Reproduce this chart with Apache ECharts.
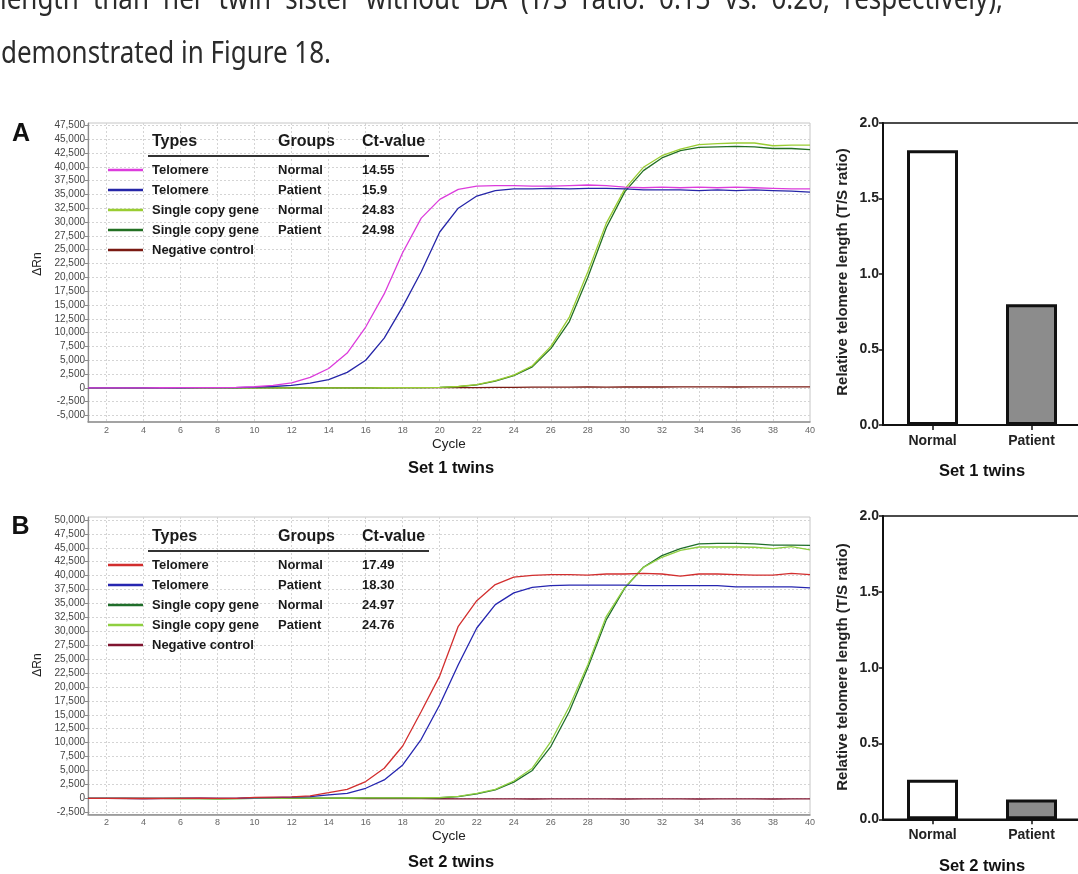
<!DOCTYPE html>
<html>
<head>
<meta charset="utf-8">
<script src="https://cdn.jsdelivr.net/npm/echarts@6/dist/echarts.min.js"></script>
<style>
  html, body { margin: 0; padding: 0; background: #ffffff; }
  #chart { width: 1078px; height: 874px; }
</style>
</head>
<body>
<div id="chart"></div>
<script>
// ---- Real-time PCR cycles ----
const cycles = [1, 2, 3, 4, 5, 6, 7, 8, 9, 10, 11, 12, 13, 14, 15, 16, 17, 18, 19, 20,
                21, 22, 23, 24, 25, 26, 27, 28, 29, 30, 31, 32, 33, 34, 35, 36, 37, 38, 39, 40];

// ---- Set 1 twins: amplification curves (ΔRn) ----
const aTelNormal = [0, 0, 0, 10, 20, 30, 40, 60, 100, 200,
                    450, 900, 1900, 3500, 6300, 11000, 17000, 24500, 30700, 34100,
                    35900, 36500, 36600, 36600, 36500, 36500, 36600, 36700, 36600, 36300,
                    36200, 36300, 36200, 36300, 36200, 36300, 36200, 36100, 36000, 36000];
const aTelPatient = [0, 0, 0, 0, 10, 20, 30, 40, 60, 120,
                     250, 450, 850, 1500, 2800, 5000, 9000, 14700, 21000, 28200,
                     32500, 34700, 35700, 36000, 36000, 36100, 36000, 36100, 36100, 36000,
                     35800, 35800, 35800, 35700, 35800, 35700, 35800, 35700, 35600, 35400];
const aScgNormal = [0, 0, 0, 0, 0, 0, 0, 0, 0, 0,
                    0, 0, 0, 0, 0, 10, 20, 30, 50, 100,
                    250, 600, 1300, 2300, 4000, 7500, 12800, 21000, 29800, 36000,
                    39900, 42000, 43200, 44000, 44200, 44300, 44300, 43800, 43900, 43900];
const aScgPatient = [0, 0, 0, 0, 0, 0, 0, 0, 0, 0,
                     0, 0, 0, 0, 0, 10, 20, 30, 40, 90,
                     220, 550, 1200, 2200, 3800, 7100, 12000, 20000, 29000, 35500,
                     39300, 41600, 42900, 43500, 43600, 43700, 43600, 43300, 43300, 43100];
const aNegCtrl = [0, 0, 0, 20, 40, 60, 60, 50, 40, 40,
                  50, 60, 50, 40, 50, 60, 60, 50, 40, 30,
                  40, 60, 80, 100, 120, 140, 150, 160, 150, 160,
                  170, 160, 170, 180, 170, 160, 170, 180, 170, 180];

// ---- Set 2 twins: amplification curves (ΔRn) ----
const bTelNormal = [0, 0, 0, -40, -20, 0, 10, -30, -20, 150,
                    200, 250, 450, 1000, 1600, 3000, 5400, 9400, 15600, 22000,
                    30900, 35500, 38400, 39750, 40050, 40200, 40200, 40100, 40300, 40300,
                    40400, 40300, 39900, 40300, 40300, 40200, 40100, 40100, 40400, 40200];
const bTelPatient = [0, 0, 0, -40, -20, 0, 10, -30, -20, 100,
                     120, 200, 300, 600, 900, 1800, 3300, 6000, 10600, 16800,
                     24000, 30600, 34800, 36900, 37900, 38200, 38300, 38300, 38300, 38300,
                     38200, 38200, 38200, 38200, 38200, 38000, 38000, 38000, 38000, 37800];
const bScgNormal = [0, 0, 0, 0, -20, -40, -60, -80, -60, -20,
                    0, 20, 30, 40, 50, 60, 70, 80, 90, 100,
                    300, 800, 1500, 2900, 5000, 9300, 15600, 23500, 32100, 37800,
                    41500, 43600, 44850, 45700, 45800, 45800, 45700, 45500, 45500, 45450];
const bScgPatient = [0, 0, 0, 0, -20, -40, -60, -80, -60, -20,
                     0, 20, 30, 40, 50, 60, 70, 90, 100, 120,
                     330, 900, 1600, 3100, 5400, 10200, 16500, 24000, 32700, 37900,
                     41500, 43300, 44550, 45150, 45150, 45150, 45100, 44850, 45200, 44650];
const bNegCtrl = [0, -20, -40, -60, -50, -30, -20, -10, 0, 10,
                  20, 10, 0, -20, -30, -40, -50, -60, -70, -80,
                  -90, -100, -110, -120, -130, -120, -110, -100, -120, -130,
                  -120, -110, -120, -130, -120, -110, -120, -130, -120, -110];

// ---- Legend tables ----
const tableHeader = ['Types', 'Groups', 'Ct-value'];
const typesA = ['Telomere', 'Telomere', 'Single copy gene', 'Single copy gene', 'Negative control'];
const groupsA = ['Normal', 'Patient', 'Normal', 'Patient', ''];
const ctA = ['14.55', '15.9', '24.83', '24.98', ''];
const typesB = ['Telomere', 'Telomere', 'Single copy gene', 'Single copy gene', 'Negative control'];
const groupsB = ['Normal', 'Patient', 'Normal', 'Patient', ''];
const ctB = ['17.49', '18.30', '24.97', '24.76', ''];

// ---- Relative telomere length (T/S ratio) ----
const barCategories = ['Normal', 'Patient'];
const set1Ratio = [1.82, 0.80];
const set2Ratio = [0.26, 0.13];

// ---- Tick marks ----
const yTicksA = { min: -5000, max: 47500, step: 2500 };
const yTicksB = { min: -2500, max: 50000, step: 2500 };
const cycleTicks = { min: 0, max: 40, step: 2 };
const barTicks = { min: 0, max: 2.0, step: 0.5 };

// ---- Styling ----
const colorsA = ['#dc3cdc', '#2626a8', '#9acd32', '#237023', '#7a1a12'];
const colorsB = ['#d22e2e', '#2626b0', '#1f6e2a', '#8fcf40', '#801530'];
const barFills = ['#ffffff', '#8c8c8c'];
const GRIDLINE = '#d4d4d4';
const SANS = '"Liberation Sans", Arial, sans-serif';
const BODY = '"Noto Sans", "Open Sans", sans-serif';

const paragraph1 = 'length than her twin sister without BA (T/S ratio: 0.13 vs. 0.26, respectively),';
const paragraph2 = 'demonstrated in Figure 18.';

const chart = echarts.init(document.getElementById('chart'), null, { renderer: 'canvas' });

function pairs(values) {
  return cycles.map((c, i) => [c, values[i]]);
}
function fmtThousands(v) {
  return Number(v).toLocaleString('en-US');
}

// Panel boxes (pixels)
const qA = { left: 88, top: 125.3, width: 722, height: 290.2, frameTop: 123, frameBottom: 422 };
const qB = { left: 88, top: 520, width: 722, height: 292.2, frameTop: 517, frameBottom: 814.5 };
const bA = { left: 883, top: 123, width: 198, height: 302 };
const bB = { left: 883, top: 516, width: 198, height: 303.3 };
const cycleSpan = 39; // cycles 1..40 across the plot width

function qpcrDataAxes(box, ticks, gridIndex) {
  const x = {
    gridIndex, type: 'value', min: 1, max: 40,
    axisLine: { show: false }, axisTick: { show: false }, axisLabel: { show: false },
    splitLine: { show: false },
    name: 'Cycle', nameLocation: 'middle',
    nameGap: (box.frameBottom - (box.top + box.height)) + 15,
    nameTextStyle: { fontSize: 13.5, color: '#222', fontFamily: SANS }
  };
  const y = {
    gridIndex, type: 'value', min: ticks.min, max: ticks.max, interval: ticks.step,
    axisLine: { show: false },
    axisTick: { show: true, length: 3, lineStyle: { color: '#888' } },
    axisLabel: { margin: 3, fontSize: 10, color: '#444', fontFamily: SANS, formatter: fmtThousands },
    splitLine: { show: true, lineStyle: { color: GRIDLINE, type: [2, 2], width: 1 } }
  };
  return { x, y };
}

// Even-cycle labels and vertical gridlines
function cycleAxes(gridIndex) {
  return {
    x: {
      gridIndex, type: 'value', min: cycleTicks.min, max: cycleTicks.max, interval: cycleTicks.step,
      axisLine: { show: false }, axisTick: { show: false },
      axisLabel: { margin: 4, fontSize: 9, color: '#666', fontFamily: SANS,
                   formatter: v => (v === 0 ? '' : String(v)) },
      splitLine: { show: true, showMinLine: false, showMaxLine: false,
                   lineStyle: { color: GRIDLINE, type: [2, 2], width: 1 } }
    },
    y: { gridIndex, type: 'value', min: 0, max: 1, show: false }
  };
}

function frameAxes(gridIndex) {
  return {
    x: { gridIndex, type: 'value', min: 0, max: 1, axisLine: { show: true, lineStyle: { color: '#8f8f8f', width: 1.5 } },
         axisTick: { show: false }, axisLabel: { show: false }, splitLine: { show: false } },
    y: { gridIndex, type: 'value', min: 0, max: 1, axisLine: { show: true, lineStyle: { color: '#8f8f8f', width: 1.2 } },
         axisTick: { show: false }, axisLabel: { show: false }, splitLine: { show: false } }
  };
}

function barAxes(gridIndex) {
  return {
    x: {
      gridIndex, type: 'category', data: barCategories,
      axisLine: { lineStyle: { color: '#111', width: 2 } },
      axisTick: { show: true, alignWithLabel: true, length: 5, lineStyle: { color: '#111', width: 1.5 } },
      axisLabel: { margin: 9, fontSize: 14, fontWeight: 'bold', color: '#222', fontFamily: SANS }
    },
    y: {
      gridIndex, type: 'value', min: barTicks.min, max: barTicks.max, interval: barTicks.step,
      axisLine: { show: true, lineStyle: { color: '#111', width: 2 } },
      axisTick: { show: true, length: 4, lineStyle: { color: '#111', width: 1.5 } },
      axisLabel: { margin: 4, fontSize: 14, fontWeight: 'bold', color: '#222', fontFamily: SANS,
                   formatter: v => v.toFixed(1) },
      splitLine: { show: false }
    }
  };
}

const axA = qpcrDataAxes(qA, yTicksA, 0);
const frA = frameAxes(1);
const axB = qpcrDataAxes(qB, yTicksB, 2);
const frB = frameAxes(3);
const brA = barAxes(4);
const brB = barAxes(5);
const cyA = cycleAxes(6);
const cyB = cycleAxes(7);

function lineSeries(values, color, xi) {
  return {
    type: 'line', xAxisIndex: xi, yAxisIndex: xi, data: pairs(values),
    showSymbol: false, symbol: 'none', smooth: false,
    lineStyle: { color, width: 1.3 }, z: 3, silent: true
  };
}
function barSeries(values, xi) {
  return {
    type: 'bar', xAxisIndex: xi, yAxisIndex: xi, barWidth: 51,
    data: values.map((v, i) => ({ value: v, itemStyle: { color: barFills[i] } })),
    itemStyle: { borderColor: '#111', borderWidth: 3 }, silent: true
  };
}

// Legend table inside each amplification plot
function legendTable(types, groups, ct, colors, headerY, underlineY, firstRowY) {
  const els = [];
  const colX = [152, 278, 362];
  tableHeader.forEach((h, i) => {
    els.push({ type: 'text', x: colX[i], y: headerY, z: 10,
      style: { text: h, font: 'bold 16px ' + SANS, fill: '#1a1a1a', verticalAlign: 'middle' } });
  });
  els.push({ type: 'line', z: 10, shape: { x1: 148, y1: underlineY, x2: 429, y2: underlineY },
    style: { stroke: '#333', lineWidth: 2 } });
  types.forEach((t, i) => {
    const y = firstRowY + i * 20;
    els.push({ type: 'line', z: 10, shape: { x1: 108, y1: y, x2: 143, y2: y },
      style: { stroke: colors[i], lineWidth: 2.5 } });
    [t, groups[i], ct[i]].forEach((s, k) => {
      els.push({ type: 'text', x: colX[k], y: y, z: 10,
        style: { text: s, font: 'bold 13px ' + SANS, fill: '#1a1a1a', verticalAlign: 'middle' } });
    });
  });
  return els;
}

// Body text above the figure (justified first line)
function paragraphText() {
  const size = 30;
  const ctx = document.createElement('canvas').getContext('2d');
  ctx.font = size + 'px ' + BODY;
  const w2 = ctx.measureText(paragraph2).width;
  const sx = 330 / w2;
  const els = [];
  els.push({ type: 'text', x: 1, y: 54, scaleX: sx,
    style: { text: paragraph2, font: size + 'px ' + BODY, fill: '#2b2b2b', verticalAlign: 'middle' } });
  const words = paragraph1.split(' ');
  const widths = words.map(w => ctx.measureText(w).width * sx);
  const total = widths.reduce((a, b) => a + b, 0);
  const gap = (1003 - total) / (words.length - 1);
  let x = 0;
  words.forEach((w, i) => {
    els.push({ type: 'text', x: x, y: 0.5, scaleX: sx,
      style: { text: w, font: size + 'px ' + BODY, fill: '#2b2b2b', verticalAlign: 'middle' } });
    x += widths[i] + gap;
  });
  return els;
}

function rotatedLabel(text, x, y, font) {
  return { type: 'text', x, y, rotation: Math.PI / 2,
    style: { text, font, fill: '#222', align: 'center', verticalAlign: 'middle' } };
}
function centeredLabel(text, x, y, font) {
  return { type: 'text', x, y, style: { text, font, fill: '#111', align: 'center', verticalAlign: 'middle' } };
}

const graphics = [].concat(
  paragraphText(),
  [
    centeredLabel('A', 21, 134, 'bold 25px ' + SANS),
    centeredLabel('B', 20.5, 527.5, 'bold 25px ' + SANS),
    rotatedLabel('ΔRn', 37.5, 264, '12px ' + SANS),
    rotatedLabel('ΔRn', 37.5, 665, '12px ' + SANS),
    centeredLabel('Set 1 twins', 451, 468, 'bold 16.5px ' + SANS),
    centeredLabel('Set 2 twins', 451, 862.5, 'bold 16.5px ' + SANS),
    rotatedLabel('Relative telomere length (T/S ratio)', 843, 272, 'bold 15px ' + SANS),
    rotatedLabel('Relative telomere length (T/S ratio)', 843, 667, 'bold 15px ' + SANS),
    centeredLabel('Set 1 twins', 982, 471.5, 'bold 16.5px ' + SANS),
    centeredLabel('Set 2 twins', 982, 866, 'bold 16.5px ' + SANS)
  ],
  legendTable(typesA, groupsA, ctA, colorsA, 142, 156, 170),
  legendTable(typesB, groupsB, ctB, colorsB, 537, 551, 565)
);

const cycleStep = qA.width / cycleSpan;
function gridBox(left, top, width, height, extra) {
  return Object.assign({ left, top, width, height, outerBoundsMode: 'none', containLabel: false }, extra || {});
}

const option = {
  animation: false,
  backgroundColor: '#ffffff',
  grid: [
    gridBox(qA.left, qA.top, qA.width, qA.height),
    gridBox(qA.left, qA.frameTop, qA.width, qA.frameBottom - qA.frameTop,
      { show: true, borderColor: '#c6c6c6', borderWidth: 1, backgroundColor: 'transparent' }),
    gridBox(qB.left, qB.top, qB.width, qB.height),
    gridBox(qB.left, qB.frameTop, qB.width, qB.frameBottom - qB.frameTop,
      { show: true, borderColor: '#c6c6c6', borderWidth: 1, backgroundColor: 'transparent' }),
    gridBox(bA.left, bA.top, bA.width, bA.height,
      { show: true, borderColor: '#111', borderWidth: 1.5, backgroundColor: 'transparent' }),
    gridBox(bB.left, bB.top, bB.width, bB.height,
      { show: true, borderColor: '#111', borderWidth: 1.5, backgroundColor: 'transparent' }),
    gridBox(qA.left - cycleStep, qA.frameTop, qA.width + cycleStep, qA.frameBottom - qA.frameTop),
    gridBox(qB.left - cycleStep, qB.frameTop, qB.width + cycleStep, qB.frameBottom - qB.frameTop)
  ],
  xAxis: [axA.x, frA.x, axB.x, frB.x, brA.x, brB.x, cyA.x, cyB.x],
  yAxis: [axA.y, frA.y, axB.y, frB.y, brA.y, brB.y, cyA.y, cyB.y],
  series: [
    lineSeries(aNegCtrl, colorsA[4], 0),
    lineSeries(aScgPatient, colorsA[3], 0),
    lineSeries(aScgNormal, colorsA[2], 0),
    lineSeries(aTelPatient, colorsA[1], 0),
    lineSeries(aTelNormal, colorsA[0], 0),
    lineSeries(bNegCtrl, colorsB[4], 2),
    lineSeries(bScgNormal, colorsB[2], 2),
    lineSeries(bScgPatient, colorsB[3], 2),
    lineSeries(bTelPatient, colorsB[1], 2),
    lineSeries(bTelNormal, colorsB[0], 2),
    barSeries(set1Ratio, 4),
    barSeries(set2Ratio, 5)
  ],
  graphic: graphics
};

chart.setOption(option);
</script>
</body>
</html>
